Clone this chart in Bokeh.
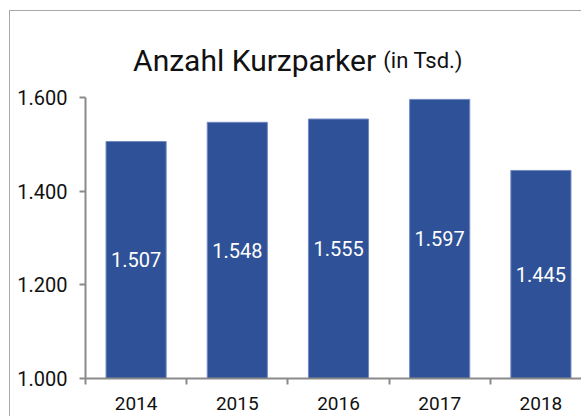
from bokeh.plotting import figure
from bokeh.models import Range1d, FixedTicker, ColumnDataSource
from bokeh.core.properties import value
from bokeh.embed import file_html
from bokeh.resources import INLINE

years = ["2014", "2015", "2016", "2017", "2018"]
values = [1507, 1548, 1555, 1597, 1445]
value_labels = ["1.507", "1.548", "1.555", "1.597", "1.445"]
y_ticks = [1000, 1200, 1400, 1600]
y_tick_labels = ["1.000", "1.200", "1.400", "1.600"]
base = 1000
title_main = "Anzahl Kurzparker"
title_unit = "(in Tsd.)"

W, H = 572, 406
xs = list(range(len(years)))
src = ColumnDataSource(dict(
    x=xs, top=values, bottom=[base] * len(values),
    mid=[(base + v) / 2 for v in values], lab=value_labels,
))

p = figure(width=W, height=H, output_backend="svg", toolbar_location=None,
           x_range=Range1d(-0.5, 4.411), y_range=Range1d(1000, 1785),
           min_border_left=75, min_border_right=0, min_border_top=0,
           min_border_bottom=39)
p.outline_line_color = None
p.grid.visible = False
p.background_fill_color = "white"
p.border_fill_color = "white"
p.styles = {"margin-left": "9px", "margin-top": "10px",
            "border-top": "1px solid #a8a8a8", "border-left": "1px solid #a8a8a8"}

p.vbar(x="x", top="top", bottom="bottom", width=0.594, source=src,
       fill_color="#2F5197", line_color="#7189C2", line_width=1)
p.text(x="x", y="mid", text="lab", source=src, text_color="white",
       text_font=value("Roboto"), text_font_size="20px",
       text_align="center", text_baseline="middle")

axis_col = "#8a8a8a"
# x axis
xa = p.xaxis[0]
xa.ticker = FixedTicker(ticks=xs, minor_ticks=[i - 0.5 for i in range(len(years) + 1)])
xa.major_label_overrides = {i: y for i, y in enumerate(years)}
xa.major_tick_out = 0
xa.major_tick_in = 0
xa.minor_tick_out = 6
xa.minor_tick_in = 0
xa.axis_line_color = axis_col
xa.minor_tick_line_color = axis_col
xa.axis_line_width = 2
xa.minor_tick_line_width = 2
xa.major_label_text_font = "Roboto"
xa.major_label_text_font_size = "19px"
xa.major_label_text_color = "#111111"
xa.major_label_standoff = 12

ya = p.yaxis[0]
ya.ticker = FixedTicker(ticks=y_ticks)
ya.bounds = (y_ticks[0], y_ticks[-1])
ya.major_label_overrides = {t: l for t, l in zip(y_ticks, y_tick_labels)}
ya.minor_tick_line_color = None
ya.major_tick_out = 6
ya.major_tick_in = 0
ya.axis_line_color = axis_col
ya.major_tick_line_color = axis_col
ya.axis_line_width = 2
ya.major_tick_line_width = 2
ya.major_label_text_font = "Roboto"
ya.major_label_text_font_size = "20px"
ya.major_label_text_color = "#111111"
ya.major_label_standoff = 12

# title, as text glyphs in data space above the bars
p.text(x=[-0.03], y=[1680], text=[title_main], text_font=value("Roboto"),
       text_font_size="30px", text_color="#111111",
       text_baseline="alphabetic", text_align="left")
p.text(x=[2.443], y=[1680], text=[title_unit], text_font=value("Roboto"),
       text_font_size="22px", text_color="#111111",
       text_baseline="alphabetic", text_align="left")

open("out.html", "w").write(file_html(p, INLINE))
